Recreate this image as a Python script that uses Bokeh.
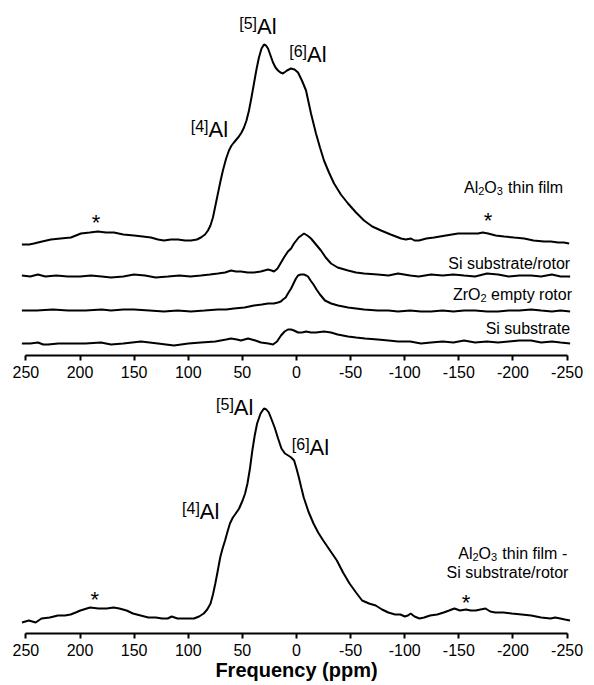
from bokeh.plotting import figure
from bokeh.layouts import column
from bokeh.models import Label, FixedTicker, Range1d, ColumnDataSource, PrintfTickFormatter
from bokeh.embed import file_html
from bokeh.resources import INLINE

# ---------------- data ----------------
tick_values = [250, 200, 150, 100, 50, 0, -50, -100, -150, -200, -250]

# Al2O3 thin film (top panel, top trace)
ppm_film = [253.7, 247, 242.6, 235, 226.9, 218, 208.4, 199.2, 191, 183.5, 176, 168.7, 160, 150.2, 142, 134.5,
            128, 122.5, 116, 109.5, 103, 97.5, 92, 88.3, 84.5, 81.8, 79.5, 77.2, 74.9, 72.6, 70.3, 68.0, 65,
            62.4, 60, 57.8, 55.5, 53.2, 50.8, 48.5, 46.2, 43.9, 41.6, 39.3, 37, 34.7, 32.3, 30.0, 28.2, 26.3,
            24, 21.7, 19.4, 17.1, 14.8, 12.5, 8.8, 5.1, 1.8, -1.4, -5, -8.8, -11, -13.4, -15.7, -18.0, -21.7,
            -25.4, -30, -34.7, -41, -47.6, -55, -62.4, -70, -78.1, -87, -96.6, -101, -105.8, -109, -113.2,
            -120, -127.1, -138, -149.3, -158, -167.7, -172, -177.0, -184, -191.8, -201, -210.3, -219, -228.7,
            -235, -241.7, -247, -251.9]
int_film = [-4, -4, -3, -1, 1, 2, 3, 7, 8, 9, 8, 8, 6, 5, 4, 3,
            1, 0, 1, 1, 0, 0, 1, 3, 6, 10, 15, 23, 35, 47, 59, 70, 82,
            90, 95, 98, 101, 104, 108, 113, 120, 130, 143, 157, 171, 183, 192, 196, 195, 192,
            185, 178, 173, 170, 168, 167, 170, 172, 171, 168, 160, 150, 139, 127, 117, 107, 93,
            80, 68, 57, 46, 37, 28, 20, 14, 10, 6, 2, 1, 2, 0, 0,
            2, 3, 5, 7, 7, 7, 8, 7, 5, 4, 3, 2, 0, -1,
            -1, -2, -2, -3]

# Si substrate/rotor
ppm_subrot = [253.7, 246, 238.9, 232, 222, 211.2, 200, 190, 180, 171.4, 160, 150.2, 140, 130, 118.8, 108, 98,
              88.3, 80, 72.6, 66, 60.5, 56, 51.3, 45, 39.3, 33, 26.3, 23, 20.8, 17.5, 14.3, 11, 7.9, 5, 2.3,
              -2, -6.9, -10, -13.4, -18, -22.6, -27, -31.9, -38, -47.6, -55, -62.4, -75, -85, -93.8, -105,
              -113, -124.3, -135, -145, -154.8, -165, -176, -186.2, -196, -206, -216.7, -226, -236, -244, -252.8]
int_subrot = [1, 0, 2, 0, 1, 0, 0, 1, 0, -1, 0, 2, 1, -1, 0, 1, 0,
              1, 2, 3, 4, 6, 5, 5, 4, 4, 5, 7, 6, 5, 8, 14, 20, 25, 28, 33,
              39, 43, 41, 38, 32, 26, 19, 13, 9, 6, 4, 3, 2, 1, 3, 1,
              0, 2, 1, 2, 1, 0, 3, 2, 0, 1, 1, 0, 2, 0, 0]

# ZrO2 empty rotor
ppm_zro2 = [253.7, 240, 225, 211.2, 195, 180, 171.4, 160, 150.2, 136, 122.5, 110, 97.5, 85, 72.6, 65, 57.8,
            48, 39.3, 32, 26.3, 21, 17.1, 14.5, 12.5, 10, 7.9, 5, 2.3, 0.5, -1.4, -4, -6.9, -9, -10.6, -13,
            -15.7, -18.5, -21.7, -26.3, -32, -38.4, -47.6, -55, -62.4, -75, -85, -93.8, -105, -115, -124.3,
            -135, -145, -154.8, -165, -176, -186.2, -196, -206, -216.7, -226, -236, -244, -252.8]
int_zro2 = [0, 0, 1, 0, 0, 1, 0, 1, 1, 0, -1, 0, -1, 0, 1, 1, 2,
            3, 5, 6, 7, 7, 8, 9, 11, 13, 17, 22, 28, 32, 35, 36, 36, 35, 34, 30,
            26, 21, 16, 10, 7, 5, 3, 2, 1, 0, 0, -1, 0, -1, -1,
            0, -1, 0, 0, -1, -1, 0, 0, 1, 0, -1, 0, -1]

# Si substrate
ppm_si = [253.7, 246, 238.9, 234, 229.6, 220, 211.2, 195, 180.7, 171.4, 160, 143.7, 128, 113.2, 100, 88.3,
          75, 65, 60.5, 55, 51.3, 44.8, 38, 32.8, 26, 21.7, 18, 14.3, 11, 7.9, 5, 2.3, -1.4, -5, -9, -13.4,
          -18, -25.4, -31.9, -38, -47.6, -55, -63.3, -75, -85, -93.8, -105, -115, -124.3, -135, -145, -154.8,
          -165, -176, -186.2, -196, -206, -216.7, -226, -236, -244, -252.8]
int_si = [0, 0, 1, -1, -1, 0, 0, 0, 1, -1, 0, 2, 0, -2, 0, 1,
          2, 4, 5, 4, 3, 5, 3, 1, 0, -1, 2, 8, 12, 14, 14, 13, 11, 11, 12, 11,
          11, 12, 11, 9, 7, 6, 5, 4, 3, 2, 2, 0, 1, 2, 1, 3,
          1, 2, 1, 2, 3, 3, 1, 2, 1, 0]

# Difference: Al2O3 thin film - Si substrate/rotor (bottom panel)
ppm_diff = [253.6, 247.3, 241.0, 235.6, 228, 220.4, 214, 208.7, 204, 199.7, 190.7, 183, 175.4, 169, 163.7, 157,
            151.1, 144, 136.9, 130, 124.2, 119, 115.3, 110, 106.3, 100, 94.7, 90, 85.7, 82.5, 79.4, 77.2,
            75.0, 72.7, 70.5, 68.3, 66.0, 63.7, 61.5, 58.8, 56.1, 53, 49.8, 47.5, 45.3, 43, 40.8, 38.6, 36.4,
            33.2, 30.1, 27.8, 25.6, 23, 20.2, 17, 13.9, 10.7, 7.6, 4.9, 2.2, 0, -2.2, -4.4, -6.7, -11, -15.7,
            -20, -24.7, -31, -37.3, -43, -49.0, -55, -60.6, -67, -73.2, -79, -84.8, -91.1, -96, -100.1, -103,
            -105.5, -109, -113.6, -118, -123.4, -130, -136.0, -141, -145.9, -151, -156.6, -161, -165.6, -170,
            -174.6, -179, -183.6, -191, -198.8, -208, -216.8, -226, -234.7, -239, -243.7, -248, -252.7]
int_diff = [-2, 0, -2, 2, 3, 5, 5, 6, 8, 10, 13, 12, 12, 13, 12, 10,
            7, 5, 3, 3, 2, 2, 4, 2, 2, 2, 2, 4, 7, 11, 17, 26,
            37, 50, 63, 72, 80, 89, 97, 103, 107, 112, 120, 127, 137, 152, 170, 185, 197,
            207, 212, 211, 208, 201, 193, 182, 172, 167, 165, 163, 160, 152, 143, 133, 123, 109, 97,
            88, 80, 70, 60, 48, 37, 28, 20, 17, 15, 11, 8, 6, 6, 4, 5,
            7, 4, 2, 3, 5, 6, 8, 10, 12, 10, 11, 10, 10, 11,
            12, 9, 8, 8, 7, 6, 5, 3, 2, 3, 2, 1, 0]

# ---------------- layout constants ----------------
FONT = "Liberation Sans"
top_offsets = {"film": 115, "subrot": 79, "zro2": 45, "si": 12}
bottom_offset = 13
SHIFT = 5  # vertical pixel correction for text baselines


def style_axis(p):
    p.xaxis.ticker = FixedTicker(ticks=tick_values)
    p.xaxis.formatter = PrintfTickFormatter(format="%d")
    p.xaxis.bounds = (-250, 250)
    p.xaxis.axis_line_width = 2
    p.xaxis.axis_line_color = "black"
    p.xaxis.major_tick_line_width = 2
    p.xaxis.major_tick_line_color = "black"
    p.xaxis.major_tick_in = 0
    p.xaxis.major_tick_out = 5
    p.xaxis.minor_tick_in = 0
    p.xaxis.minor_tick_out = 0
    p.xaxis.major_label_text_font = FONT
    p.xaxis.major_label_text_font_size = "16px"
    p.xaxis.major_label_text_color = "black"
    p.xaxis.major_label_standoff = 5
    p.xgrid.visible = False
    p.ygrid.visible = False
    p.outline_line_color = None
    p.background_fill_color = "white"
    p.border_fill_color = "white"


def add_label(p, x, y, text, size, align="left", xo=0, yo=0, style="normal"):
    p.add_layout(Label(x=x, y=y, text=text, x_offset=xo, y_offset=yo + SHIFT, text_align=align,
                       text_baseline="alphabetic", text_font=FONT, text_font_size=f"{size}px",
                       text_font_style=style, text_color="black"))


def add_site(p, x, y, site):
    add_label(p, x, y, "Al", 22, align="left", yo=1)
    add_label(p, x, y, f"[{site}]", 16, align="right", yo=4)


def add_al2o3(p, x, y, tail):
    add_label(p, x, y, "Al", 16)
    add_label(p, x, y, "2", 11, xo=14.2, yo=-3.5)
    add_label(p, x, y, "O", 16, xo=20.3)
    add_label(p, x, y, "3", 11, xo=32.7, yo=-3.5)
    add_label(p, x, y, tail, 16, xo=44)


def add_star(p, x, y):
    add_label(p, x, y, "*", 22, align="center", yo=5)


# ---------------- top panel ----------------
p1 = figure(width=594, height=390, x_range=Range1d(255, -255), y_range=Range1d(0, 355),
            output_backend="svg", toolbar_location=None, title=None, y_axis_location=None,
            min_border_left=20, min_border_right=22, min_border_top=0, min_border_bottom=35)
style_axis(p1)

for ppm, inten, key in [(ppm_film, int_film, "film"), (ppm_subrot, int_subrot, "subrot"),
                        (ppm_zro2, int_zro2, "zro2"), (ppm_si, int_si, "si")]:
    off = top_offsets[key]
    src = ColumnDataSource(dict(x=ppm, y=[off + v for v in inten]))
    p1.line("x", "y", source=src, line_color="black", line_width=2)

add_site(p1, 36.5, 323, 5)
add_site(p1, -9.7, 295, 6)
add_site(p1, 81.3, 220, 4)
add_star(p1, 185.3, 123.2)
add_star(p1, -177, 124.7)
add_al2o3(p1, -154.8, 163, "thin film")
add_label(p1, -252.8, 87, "Si substrate/rotor", 16, align="right")
add_label(p1, -144.6, 56, "ZrO", 16)
add_label(p1, -144.6, 56, "2", 11, xo=27.6, yo=-3.5)
add_label(p1, -144.6, 56, "empty rotor", 16, xo=38.1)
add_label(p1, -252.8, 22, "Si substrate", 16, align="right")

# ---------------- bottom panel ----------------
p2 = figure(width=594, height=295, x_range=Range1d(255, -255), y_range=Range1d(0, 243),
            output_backend="svg", toolbar_location=None, title=None, y_axis_location=None,
            min_border_left=11, min_border_right=15, min_border_top=0, min_border_bottom=52)
style_axis(p2)
p2.xaxis.axis_label = "Frequency (ppm)"
p2.xaxis.axis_label_text_font = FONT
p2.xaxis.axis_label_text_font_size = "20px"
p2.xaxis.axis_label_text_font_style = "bold"
p2.xaxis.axis_label_text_color = "black"
p2.xaxis.axis_label_standoff = 0

src2 = ColumnDataSource(dict(x=ppm_diff, y=[bottom_offset + v for v in int_diff]))
p2.line("x", "y", source=src2, line_color="black", line_width=2)

add_site(p2, 57.9, 220, 5)
add_site(p2, -12.1, 180, 6)
add_site(p2, 89.3, 116, 4)
add_star(p2, 186.3, 24.2)
add_star(p2, -156.6, 21.2)
add_al2o3(p2, -149.5, 75, "thin film -")
add_label(p2, -138.7, 56, "Si substrate/rotor", 16)

layout = column(p1, p2, spacing=0)
open("out.html", "w").write(file_html(layout, INLINE))
